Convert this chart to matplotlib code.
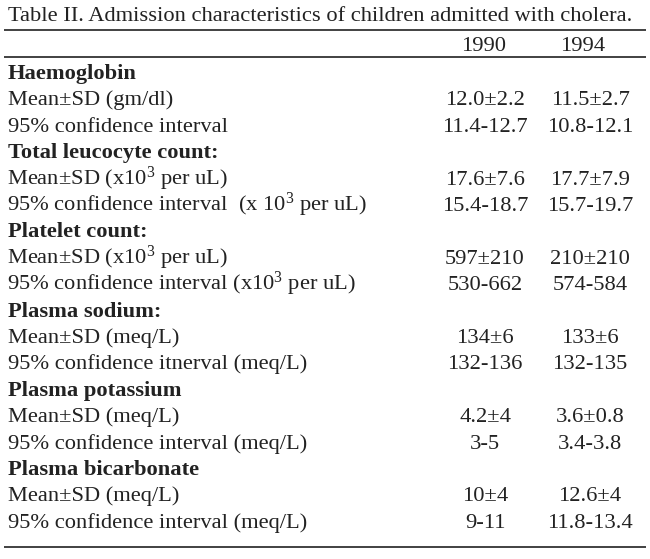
import matplotlib
matplotlib.use("Agg")
import matplotlib.pyplot as plt

title = "Table II. Admission characteristics of children admitted with cholera."
years = ["1990", "1994"]

row_labels = [
    "Haemoglobin",
    "Mean\u00b1SD (gm/dl)",
    "95% confidence interval",
    "Total leucocyte count:",
    "Mean\u00b1SD (x10$^3$ per uL)",
    "95% confidence interval  (x 10$^3$ per uL)",
    "Platelet count:",
    "Mean\u00b1SD (x10$^3$ per uL)",
    "95% confidence interval (x10$^3$ per uL)",
    "Plasma sodium:",
    "Mean\u00b1SD (meq/L)",
    "95% confidence itnerval (meq/L)",
    "Plasma potassium",
    "Mean\u00b1SD (meq/L)",
    "95% confidence interval (meq/L)",
    "Plasma bicarbonate",
    "Mean\u00b1SD (meq/L)",
    "95% confidence interval (meq/L)",
]
is_heading = [True, False, False] * 6

values_1990 = ["", "12.0\u00b12.2", "11.4-12.7",
               "", "17.6\u00b17.6", "15.4-18.7",
               "", "597\u00b1210", "530-662",
               "", "134\u00b16", "132-136",
               "", "4.2\u00b14", "3-5",
               "", "10\u00b14", "9-11"]
values_1994 = ["", "11.5\u00b12.7", "10.8-12.1",
               "", "17.7\u00b17.9", "15.7-19.7",
               "", "210\u00b1210", "574-584",
               "", "133\u00b16", "132-135",
               "", "3.6\u00b10.8", "3.4-3.8",
               "", "12.6\u00b14", "11.8-13.4"]

plt.rcParams['font.family'] = ['Liberation Serif', 'DejaVu Serif']
plt.rcParams['mathtext.fontset'] = 'custom'
plt.rcParams['mathtext.rm'] = 'Liberation Serif'
plt.rcParams['mathtext.it'] = 'Liberation Serif'
plt.rcParams['mathtext.bf'] = 'Liberation Serif:bold'

W, H = 650, 559
fig = plt.figure(figsize=(W / 100, H / 100), dpi=100)
fig.patch.set_facecolor('white')
ax = fig.add_axes([0, 0, 1, 1])
ax.set_xlim(0, W)
ax.set_ylim(H, 0)
ax.axis('off')

tc = '#222222'
fs = 16.2

ax.text(8, 21, title, fontsize=fs, color=tc, va='baseline', ha='left')
for y in (29.5, 57, 547):
    ax.plot([4, 646], [y, y], color='#333333', lw=1.3, solid_capstyle='butt')

col_x = [485, 590]
head_x = [484, 583]
for x, yr in zip(head_x, years):
    ax.text(x, 51, yr, fontsize=fs, color=tc, va='baseline', ha='center')

y0, dy = 79, 26.4
for i, (lab, head) in enumerate(zip(row_labels, is_heading)):
    y = y0 + i * dy
    xl = 7 if '$' in lab else 8
    ax.text(xl, y, lab, fontsize=fs, color=tc, va='baseline', ha='left',
            fontweight='bold' if head else 'normal')
    for x, vals in zip(col_x, (values_1990, values_1994)):
        if vals[i]:
            ax.text(x, y, vals[i], fontsize=fs, color=tc, va='baseline', ha='center')

fig.savefig('out.png', dpi=100, facecolor='white')
